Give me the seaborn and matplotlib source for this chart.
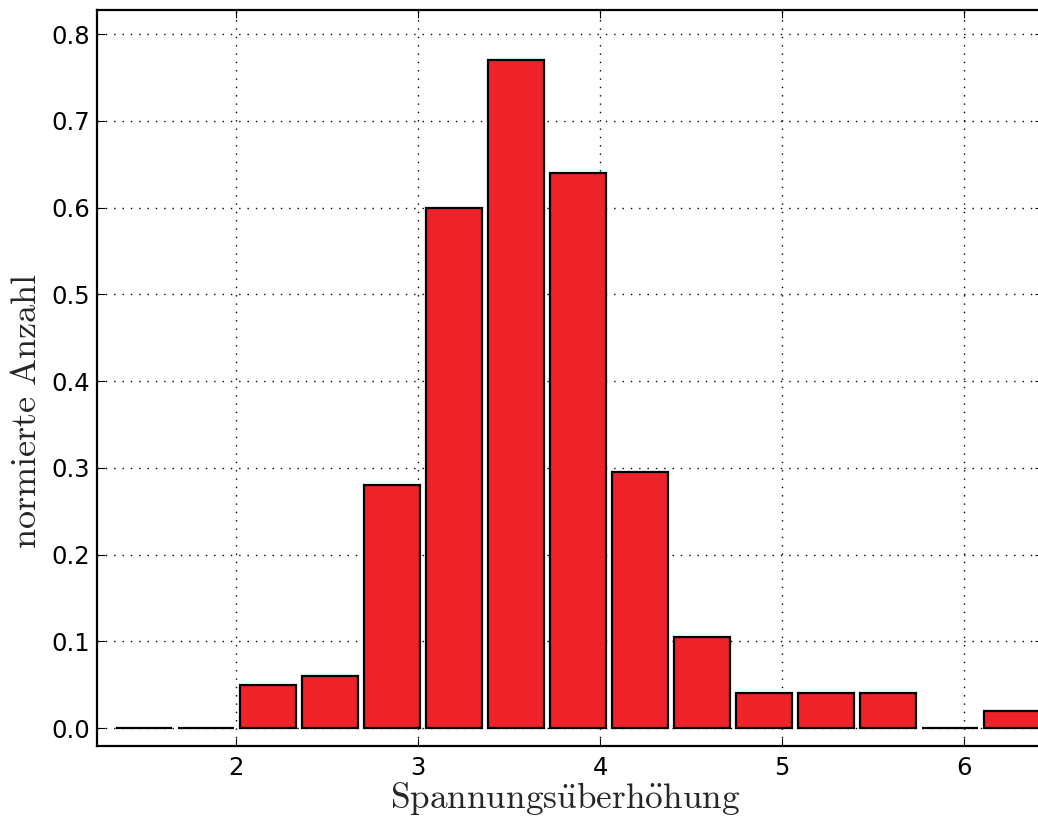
import numpy as np
import pandas as pd
import matplotlib
matplotlib.use("Agg")
import matplotlib.pyplot as plt
import seaborn as sns

# Normalised histogram of the voltage overshoot factor
bin_start = 1.323
bin_width = 0.3407
counts = [0.0, 0.0, 0.05, 0.06, 0.28, 0.60, 0.77, 0.64, 0.295, 0.105,
          0.04, 0.04, 0.04, 0.0, 0.02]
x_ticks = [2, 3, 4, 5, 6]
y_ticks = [0.0, 0.1, 0.2, 0.3, 0.4, 0.5, 0.6, 0.7, 0.8]

n_bins = len(counts)
centers = bin_start + bin_width * (np.arange(n_bins) + 0.5)
df = pd.DataFrame({"center": centers, "count": counts})

sns.set_style("white")
plt.rcParams["mathtext.fontset"] = "cm"
plt.rcParams["font.family"] = ["DejaVu Sans"]

fig = plt.figure(figsize=(10.38, 8.17), dpi=100)
ax = fig.add_axes([97 / 1038, 71 / 817, 1.005 - 97 / 1038, (746 - 10) / 817])

sns.histplot(data=df, x="center", weights="count", bins=n_bins,
             binrange=(bin_start, bin_start + n_bins * bin_width), shrink=0.9,
             color="#ee2229", edgecolor="black", linewidth=1.6, alpha=1,
             ax=ax, zorder=2)

ax.set_xlim(1.236, 6.434)
ax.set_ylim(-0.0207, 0.8277)
ax.set_xticks(x_ticks)
ax.set_xticklabels([str(t) for t in x_ticks])
ax.set_yticks(y_ticks)
ax.set_yticklabels([f"{t:.1f}" for t in y_ticks])

ax.grid(True, color="black", linestyle=(0, (1, 5)), linewidth=1.0, zorder=0)
ax.set_axisbelow(True)

ax.tick_params(direction="in", length=6, width=0.8, labelsize=17.5,
               top=True, right=True, bottom=True, left=True,
               colors="black")
ax.tick_params(axis="y", pad=5)
ax.tick_params(axis="x", pad=7)
for side in ["left", "bottom", "top", "right"]:
    ax.spines[side].set_visible(True)
    ax.spines[side].set_color("black")
    ax.spines[side].set_linewidth(1.6)

ax.set_xlabel(r"$\mathrm{Spannungs\ddot{u}berh\ddot{o}hung}$", fontsize=25.4)
ax.set_ylabel(r"$\mathrm{normierte\ Anzahl}$", fontsize=26)
ax.xaxis.set_label_coords(0.4947, -0.046)
ax.yaxis.set_label_coords(-0.057, 0.455)

fig.savefig("out.png", dpi=100)
